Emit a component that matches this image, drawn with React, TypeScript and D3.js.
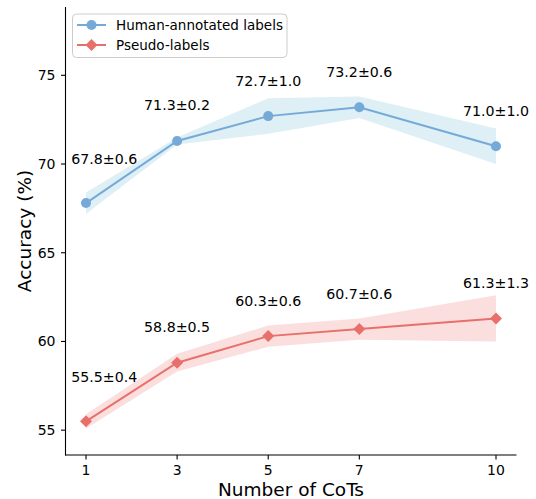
import React from "react";
import * as d3 from "d3";

// number of CoTs on the x axis
const cots = [1, 3, 5, 7, 10];

// mean accuracy and std for each series
const humanMean = [67.8, 71.3, 72.7, 73.2, 71.0];
const humanStd = [0.6, 0.2, 1.0, 0.6, 1.0];
const pseudoMean = [55.5, 58.8, 60.3, 60.7, 61.3];
const pseudoStd = [0.4, 0.5, 0.6, 0.6, 1.3];

const yTicks = [55, 60, 65, 70, 75];

const W = 536;
const H = 499;
const font = "DejaVu Sans, sans-serif";

const x = d3.scaleLinear().domain([0.55, 10.45]).range([65.5, 516.5]);
const y = d3.scaleLinear().domain([53.6, 78.85]).range([455, 7]);

const series = [
   {
      name: "Human-annotated labels",
      mean: humanMean,
      std: humanStd,
      line: "#75aad8",
      fill: "#add8e6",
      fillOpacity: 0.4,
      marker: "circle",
   },
   {
      name: "Pseudo-labels",
      mean: pseudoMean,
      std: pseudoStd,
      line: "#e9706a",
      fill: "#f08080",
      fillOpacity: 0.25,
      marker: "diamond",
   },
];

const Marker = ({ kind, cx, cy, color }) =>
   kind === "circle" ? (
      <circle cx={cx} cy={cy} r={5} fill={color} />
   ) : (
      <path
         d={`M${cx},${cy - 6} L${cx + 6},${cy} L${cx},${cy + 6} L${cx - 6},${cy} Z`}
         fill={color}
      />
   );

const App = () => {
   const line = d3
      .line<number>()
      .x((_, i) => x(cots[i]))
      .y((d) => y(d));

   const band = (mean: number[], std: number[]) =>
      d3
         .area<number>()
         .x((_, i) => x(cots[i]))
         .y0((d, i) => y(d - std[i]))
         .y1((d, i) => y(d + std[i]))(mean);

   return (
      <svg
         width={W}
         height={H}
         style={{ position: "absolute", left: 0, top: 0, background: "#fff" }}
         fontFamily={font}
      >
         {series.map((s) => (
            <path
               key={s.name + "band"}
               d={band(s.mean, s.std)}
               fill={s.fill}
               fillOpacity={s.fillOpacity}
            />
         ))}
         {series.map((s) => (
            <g key={s.name}>
               <path d={line(s.mean)} fill="none" stroke={s.line} strokeWidth={2} />
               {s.mean.map((v, i) => (
                  <Marker key={i} kind={s.marker} cx={x(cots[i])} cy={y(v)} color={s.line} />
               ))}
               {s.mean.map((v, i) => (
                  // first label is shifted right and a bit higher to clear the axis
                  <text
                     key={"t" + i}
                     x={x(cots[i] + (i === 0 ? 0.4 : 0))}
                     y={y(v + (i === 0 ? 2.5 : 2))}
                     textAnchor="middle"
                     dominantBaseline="central"
                     fontSize={14.2}
                     fill="#000"
                  >
                     {`${v.toFixed(1)}±${s.std[i].toFixed(1)}`}
                  </text>
               ))}
            </g>
         ))}

         {/* spines */}
         <line x1={65.5} x2={65.5} y1={7} y2={455.5} stroke="#000" strokeWidth={1.1} />
         <line x1={65} x2={516.5} y1={455} y2={455} stroke="#000" strokeWidth={1.1} />

         {/* y ticks */}
         {yTicks.map((t) => (
            <g key={t}>
               <line x1={61} x2={65.5} y1={y(t)} y2={y(t)} stroke="#000" strokeWidth={1.1} />
               <text
                  x={55.5}
                  y={y(t)}
                  textAnchor="end"
                  dominantBaseline="central"
                  fontSize={14}
               >
                  {t}
               </text>
            </g>
         ))}

         {/* x ticks */}
         {cots.map((t) => (
            <g key={t}>
               <line x1={x(t)} x2={x(t)} y1={455} y2={459.5} stroke="#000" strokeWidth={1.1} />
               <text x={x(t)} y={475} textAnchor="middle" fontSize={14}>
                  {t}
               </text>
            </g>
         ))}

         <text x={291} y={496} textAnchor="middle" fontSize={18.5}>
            Number of CoTs
         </text>
         <text
            transform="translate(24,231) rotate(-90)"
            textAnchor="middle"
            dominantBaseline="central"
            fontSize={18.5}
         >
            Accuracy (%)
         </text>

         {/* legend */}
         <rect
            x={72.5}
            y={14}
            width={214.5}
            height={43.5}
            rx={4}
            fill="#fff"
            fillOpacity={0.8}
            stroke="#cccccc"
            strokeWidth={1}
         />
         {series.map((s, i) => {
            const ly = 25 + i * 20;
            return (
               <g key={"lg" + i}>
                  <line x1={77} x2={106} y1={ly} y2={ly} stroke={s.line} strokeWidth={2} />
                  <Marker kind={s.marker} cx={91.5} cy={ly} color={s.line} />
                  <text x={116} y={ly} dominantBaseline="central" fontSize={13.5}>
                     {s.name}
                  </text>
               </g>
            );
         })}
      </svg>
   );
};

export default App;
